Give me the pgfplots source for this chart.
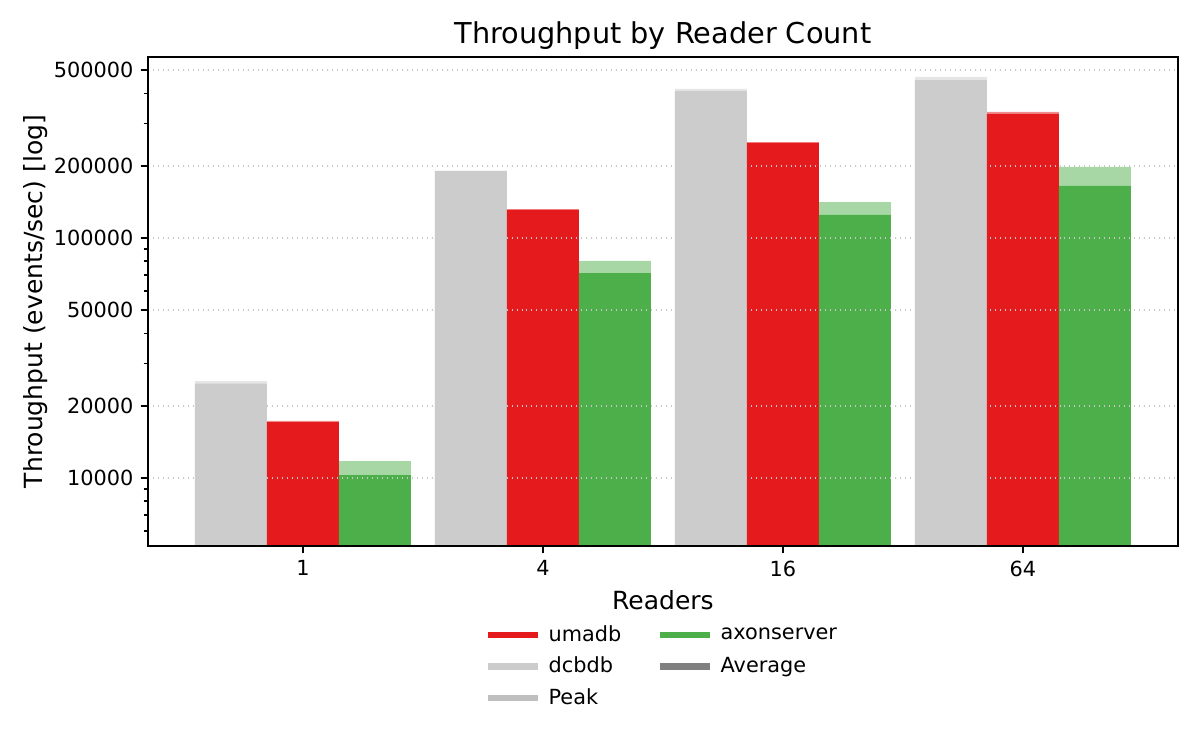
\documentclass[border=0pt]{standalone}
\usepackage{fontspec}
\setmainfont{DejaVu Sans}
\usepackage{pgfplots}
\pgfplotsset{compat=1.18}

\definecolor{umared}{HTML}{E41A1C}
\definecolor{axongreen}{HTML}{4DAF4A}
\definecolor{dcbgray}{HTML}{CCCCCC}
\definecolor{peakgray}{HTML}{BFBFBF}
\definecolor{avggray}{HTML}{808080}
\definecolor{gridgray}{HTML}{C8C8C8}

\begin{document}
\begin{tikzpicture}
\begin{axis}[
  name=ax,
  scale only axis,
  width=494.4bp, height=234.7bp,
  xmin=-0.646, xmax=3.646,
  ymode=log,
  ymin=5208, ymax=567000,
  log origin=infty,
  xtick={0,1,2,3},
  xticklabels={1,4,16,64},
  ytick={10000,20000,50000,100000,200000,500000},
  yticklabels={10000,20000,50000,100000,200000,500000},
  minor ytick={6000,7000,8000,9000,30000,40000,60000,70000,80000,90000,300000,400000},
  tick align=outside,
  tick pos=left,
  major tick length=3.5bp,
  minor tick length=2bp,
  every tick/.style={black, line width=0.8bp},
  axis line style={line width=0.8bp},
  ymajorgrids,
  major grid style={gridgray, dotted, line width=0.8bp},
  axis on top,
  /pgf/number format/assume math mode=true,
  tick label style={font=\fontsize{10bp}{12bp}\selectfont},
  label style={font=\fontsize{12bp}{14bp}\selectfont},
  ylabel style={xshift=0bp, yshift=-4bp},
  title style={font=\fontsize{13.8bp}{16bp}\selectfont, yshift=-6bp},
  title={Throughput by Reader Count},
  xlabel={Readers},
  ylabel={Throughput (events/sec) [log]},
  legend columns=2,
  legend style={at={(0.5,-0.145)}, anchor=north, draw=none,
    font=\fontsize{10bp}{12bp}\selectfont,
    /tikz/every even column/.append style={column sep=15bp},
    row sep=2bp},
  legend cell align=left,
  legend image code/.code={\draw[#1, line width=3.2bp] (0bp,0bp) -- (24bp,0bp);},
  legend style={/tikz/every odd column/.append style={xshift=0bp}},
]
% peak bars (lighter)
\addplot[ybar, bar width=0.3, bar shift=-0.3, draw=none, fill=dcbgray, fill opacity=0.5, forget plot]
  coordinates {(0,25350) (1,191000) (2,418000) (3,468700)};
\addplot[ybar, bar width=0.3, bar shift=0, draw=none, fill=umared, fill opacity=0.5, forget plot]
  coordinates {(0,17300) (1,132000) (2,251000) (3,335000)};
\addplot[ybar, bar width=0.3, bar shift=0.3, draw=none, fill=axongreen, fill opacity=0.5, forget plot]
  coordinates {(0,11770) (1,80200) (2,141000) (3,197700)};
% average bars
\addplot[ybar, bar width=0.3, bar shift=-0.3, draw=none, fill=dcbgray, forget plot]
  coordinates {(0,24700) (1,190000) (2,409800) (3,455000)};
\addplot[ybar, bar width=0.3, bar shift=0, draw=none, fill=umared, forget plot]
  coordinates {(0,17100) (1,130800) (2,248900) (3,328500)};
\addplot[ybar, bar width=0.3, bar shift=0.3, draw=none, fill=axongreen, forget plot]
  coordinates {(0,10290) (1,71400) (2,124700) (3,164700)};
% legend
\addlegendimage{umared}
\addlegendentry{\hspace{1.5bp}umadb}
\addlegendimage{axongreen}
\addlegendentry{\hspace{1.5bp}axonserver}
\addlegendimage{dcbgray}
\addlegendentry{\hspace{1.5bp}dcbdb}
\addlegendimage{avggray}
\addlegendentry{\hspace{1.5bp}Average}
\addlegendimage{peakgray}
\addlegendentry{\hspace{1.5bp}Peak}
\end{axis}
\pgfresetboundingbox
\path[use as bounding box] ([xshift=-71bp,yshift=-97.9bp]ax.south west) rectangle ([xshift=10.6bp,yshift=27.4bp]ax.north east);
\end{tikzpicture}
\end{document}
